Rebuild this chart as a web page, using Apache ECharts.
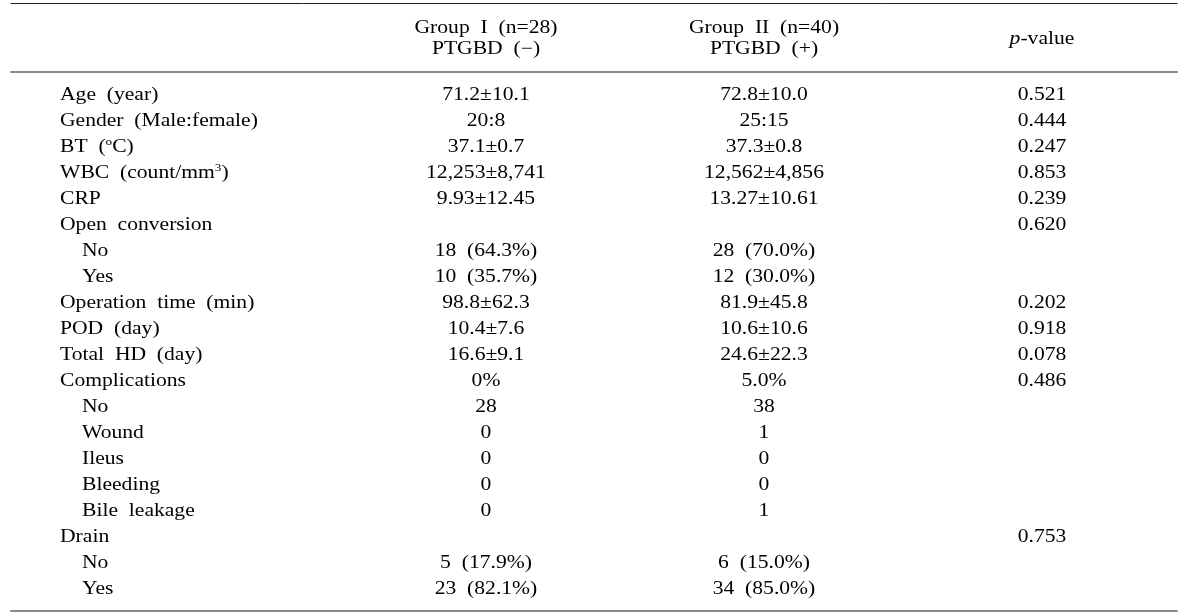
<!DOCTYPE html>
<html>
<head>
<meta charset="utf-8">
<script src="https://cdn.jsdelivr.net/npm/echarts@6/dist/echarts.min.js"></script>
<style>
html,body{margin:0;padding:0;background:#fff;}
#c{width:1200px;height:614px;}
</style>
</head>
<body>
<div id="c"></div>
<script>
// ---------- data ----------
const headers = [
  'Group  I  (n=28)\nPTGBD  (−)',
  'Group  II  (n=40)\nPTGBD  (+)',
  '{i|p}-value'
];
const rowLabels = [
  'Age  (year)',
  'Gender  (Male:female)',
  'BT  ({sup|o}C)',
  'WBC  (count/mm{sup|3})',
  'CRP',
  'Open  conversion',
  'No',
  'Yes',
  'Operation  time  (min)',
  'POD  (day)',
  'Total  HD  (day)',
  'Complications',
  'No',
  'Wound',
  'Ileus',
  'Bleeding',
  'Bile  leakage',
  'Drain',
  'No',
  'Yes'
];
const subRows = [6, 7, 12, 13, 14, 15, 16, 18, 19];
const group1 = [
  '71.2±10.1', '20:8', '37.1±0.7', '12,253±8,741', '9.93±12.45', '',
  '18  (64.3%)', '10  (35.7%)', '98.8±62.3', '10.4±7.6', '16.6±9.1', '0%',
  '28', '0', '0', '0', '0', '', '5  (17.9%)', '23  (82.1%)'
];
const group2 = [
  '72.8±10.0', '25:15', '37.3±0.8', '12,562±4,856', '13.27±10.61', '',
  '28  (70.0%)', '12  (30.0%)', '81.9±45.8', '10.6±10.6', '24.6±22.3', '5.0%',
  '38', '1', '0', '0', '1', '', '6  (15.0%)', '34  (85.0%)'
];
const pValues = [
  '0.521', '0.444', '0.247', '0.853', '0.239', '0.620',
  '', '', '0.202', '0.918', '0.078', '0.486',
  '', '', '', '', '', '0.753', '', ''
];

// ---------- build cells ----------
const cells = [];
rowLabels.forEach((t, i) => cells.push({ col: 0, row: i, text: t, sub: subRows.includes(i) }));
[group1, group2, pValues].forEach((arr, c) => {
  arr.forEach((t, i) => { if (t) cells.push({ col: c + 1, row: i, text: t, sub: false }); });
});

// ---------- style ----------
const FONT = '"Liberation Serif", "Times New Roman", serif';
const FS = 18;
const SX = 1.2;
const INK = '#000000';
const rich = {
  i: { fontFamily: FONT, fontSize: FS, fontStyle: 'italic', lineHeight: 21 },
  sup: { fontFamily: FONT, fontSize: 11, verticalAlign: 'top' }
};
const X_MIN = -0.7086, X_MAX = 3.4856;
const Y_MIN = -3.538, Y_MAX = 19.846;

function textEl(x, y, text, align) {
  return {
    type: 'text', x: x, y: y, scaleX: SX, scaleY: 1,
    style: {
      text: text, fill: INK, fontFamily: FONT, fontSize: FS, lineHeight: 21,
      align: align, verticalAlign: 'middle', rich: rich
    }
  };
}

const hidden = { axisLabel: { show: false }, axisTick: { show: false }, splitLine: { show: false } };

const chart = echarts.init(document.getElementById('c'));
chart.setOption({
  animation: false,
  backgroundColor: '#ffffff',
  grid: { left: 11, right: 23, top: 3, bottom: 3 },
  xAxis: [
    Object.assign({ type: 'value', min: X_MIN, max: X_MAX, position: 'top',
      axisLine: { show: true, onZero: false, lineStyle: { color: '#1e1e1e', width: 1 } } }, hidden),
    Object.assign({ type: 'value', min: X_MIN, max: X_MAX, position: 'bottom',
      axisLine: { show: true, onZero: false, lineStyle: { color: '#8a8a8a', width: 2 } } }, hidden),
    Object.assign({ type: 'value', min: X_MIN, max: X_MAX, position: 'top', offset: -69,
      axisLine: { show: true, onZero: false, lineStyle: { color: '#8a8a8a', width: 2 } } }, hidden)
  ],
  yAxis: { type: 'value', inverse: true, min: Y_MIN, max: Y_MAX, show: false },
  series: [
    {
      type: 'custom', coordinateSystem: 'cartesian2d', xAxisIndex: 0, yAxisIndex: 0,
      clip: false, silent: true,
      data: cells.map(c => [c.col, c.row]),
      encode: { x: 0, y: 1 },
      renderItem: function (params, api) {
        const cell = cells[params.dataIndex];
        const p = api.coord([Math.max(1, cell.col), cell.row]);
        if (cell.col === 0) {
          const x = params.coordSys.x + 49 + (cell.sub ? 22 : 0);
          return textEl(x, p[1], cell.text, 'left');
        }
        return textEl(p[0], p[1], cell.text, 'center');
      }
    },
    {
      type: 'custom', coordinateSystem: 'cartesian2d', xAxisIndex: 0, yAxisIndex: 0,
      clip: false, silent: true,
      data: headers.map((h, i) => [i + 1, Y_MIN]),
      encode: { x: 0, y: 1 },
      renderItem: function (params, api) {
        const p = api.coord([api.value(0), Y_MIN]);
        return textEl(p[0], p[1] + 36, headers[params.dataIndex], 'center');
      }
    }
  ]
});
</script>
</body>
</html>
